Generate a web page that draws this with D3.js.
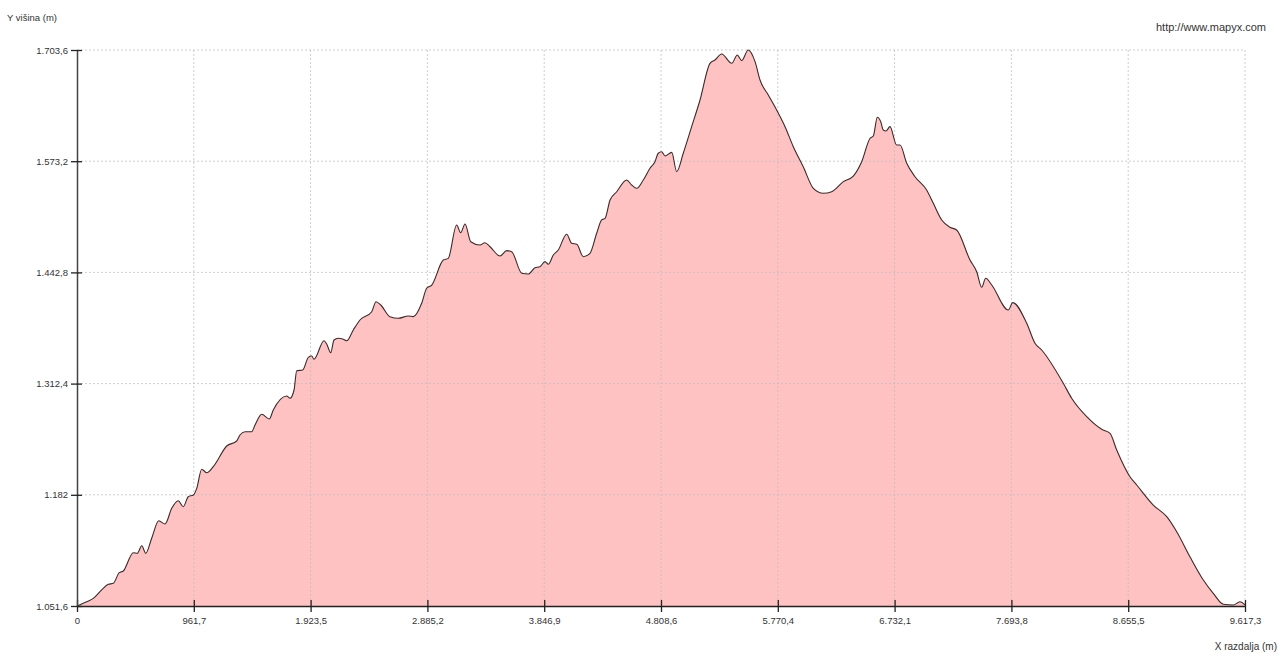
<!DOCTYPE html>
<html>
<head>
<meta charset="utf-8">
<script src="https://cdn.jsdelivr.net/npm/d3@7"></script>
<style>
  body { margin: 0; background: #fff; }
  text { font-family: "Liberation Sans", Arial, sans-serif; fill: #333; }
</style>
</head>
<body>
<div id="chart"></div>
<script>
// distance along route (m)
var distance = [0, 80, 134, 203, 258, 299, 348, 381, 464, 497, 533, 566, 615, 673, 725, 780, 834, 875, 916, 958,
  986, 1027, 1068, 1122, 1233, 1315, 1342, 1383, 1438, 1466, 1521, 1583, 1616, 1727, 1754, 1787, 1809, 1858, 1905, 1933,
  1951, 2034, 2056, 2089, 2116, 2152, 2193, 2221, 2275, 2330, 2427, 2462, 2501, 2577, 2646, 2728, 2769, 2838, 2879, 2921,
  3016, 3057, 3126, 3159, 3195, 3242, 3318, 3359, 3401, 3483, 3538, 3579, 3662, 3716, 3771, 3812, 3853, 3881, 3922, 3963,
  4032, 4073, 4115, 4169, 4224, 4279, 4320, 4348, 4389, 4444, 4526, 4567, 4609, 4663, 4718, 4759, 4786, 4814, 4842, 4897,
  4938, 4992, 5061, 5130, 5212, 5253, 5308, 5391, 5437, 5473, 5527, 5583, 5624, 5692, 5761, 5830, 5898, 5980, 6063, 6145,
  6214, 6310, 6392, 6461, 6530, 6557, 6590, 6618, 6639, 6661, 6694, 6749, 6777, 6832, 6900, 6996, 7051, 7120, 7188, 7243,
  7353, 7408, 7449, 7482, 7532, 7668, 7705, 7820, 7888, 7943, 8121, 8190, 8314, 8437, 8506, 8561, 8670, 8726, 8862, 8973,
  9055, 9164, 9274, 9356, 9439, 9521, 9576, 9617.3];

// elevation (m)
var elevation = [1051.6, 1056.6, 1060.6, 1070.4, 1077.0, 1078.2, 1090.7, 1092.6, 1114.1, 1113.4, 1122.3, 1113.4, 1131.0, 1151.6, 1147.8, 1166.2, 1175.1, 1168.0, 1179.8, 1181.8,
  1189.6, 1211.9, 1207.9, 1215.0, 1239.2, 1245.1, 1252.1, 1256.0, 1256.0, 1263.9, 1276.4, 1270.9, 1281.4, 1297.9, 1295.2, 1304.9, 1327.5, 1328.4, 1343.2, 1344.8,
  1340.9, 1362.7, 1358.8, 1348.6, 1363.5, 1365.5, 1364.4, 1362.7, 1375.3, 1387.0, 1396.7, 1408.4, 1404.6, 1390.9, 1389.0, 1391.7, 1390.9, 1406.6, 1424.2, 1428.0,
  1457.3, 1459.3, 1498.4, 1489.4, 1499.6, 1478.8, 1474.9, 1477.6, 1472.9, 1462.0, 1468.3, 1467.1, 1441.8, 1440.9, 1448.3, 1449.5, 1455.4, 1452.3, 1463.2, 1469.1,
  1487.5, 1476.9, 1475.8, 1461.2, 1465.2, 1488.7, 1504.3, 1506.2, 1527.7, 1537.4, 1551.2, 1545.3, 1541.4, 1551.2, 1564.9, 1572.6, 1582.5, 1584.3, 1579.3, 1583.6,
  1560.9, 1582.5, 1613.7, 1645.0, 1688.0, 1691.9, 1698.9, 1688.0, 1697.8, 1691.1, 1703.6, 1689.9, 1668.4, 1650.8, 1633.2, 1613.7, 1590.2, 1566.7, 1541.4, 1535.6,
  1537.4, 1549.2, 1555.8, 1572.6, 1600.1, 1602.8, 1624.7, 1619.5, 1609.8, 1608.6, 1613.7, 1592.2, 1592.2, 1570.7, 1555.0, 1539.4, 1523.8, 1504.3, 1495.7, 1492.5,
  1457.3, 1443.6, 1425.3, 1435.9, 1428.0, 1398.7, 1407.3, 1383.1, 1359.7, 1351.8, 1312.8, 1295.2, 1273.6, 1258.8, 1254.1, 1234.5, 1203.2, 1193.5, 1170.0, 1156.3,
  1138.7, 1109.4, 1082.1, 1066.5, 1053.6, 1052.8, 1056.6, 1052.8];

var xTicks = [0, 961.73, 1923.46, 2885.19, 3846.92, 4808.65, 5770.38, 6732.11, 7693.84, 8655.57, 9617.3];
var xTickLabels = ["0", "961,7", "1.923,5", "2.885,2", "3.846,9", "4.808,6", "5.770,4", "6.732,1", "7.693,8", "8.655,5", "9.617,3"];
var yTicks = [1051.6, 1182, 1312.4, 1442.8, 1573.2, 1703.6];
var yTickLabels = ["1.051,6", "1.182", "1.312,4", "1.442,8", "1.573,2", "1.703,6"];

var W = 1278, H = 653;
var margin = { top: 50, right: 33, bottom: 47, left: 77 };
var width = W - margin.left - margin.right;
var height = H - margin.top - margin.bottom;

var svg = d3.select("#chart")
  .append("svg")
  .attr("width", W)
  .attr("height", H);

var g = svg.append("g")
  .attr("transform", "translate(" + margin.left + "," + margin.top + ")");

var x = d3.scaleLinear().domain([0, 9617.3]).range([0, width]);
var y = d3.scaleLinear().domain([1051.6, 1703.6]).range([height, 0]);

var data = distance.map(function (d, i) { return { d: d, e: elevation[i] }; });

// filled profile
var area = d3.area()
  .curve(d3.curveMonotoneX)
  .x(function (p) { return x(p.d); })
  .y0(height)
  .y1(function (p) { return y(p.e); });

g.append("path")
  .datum(data)
  .attr("d", area)
  .attr("fill", "#ffc2c2");

// dashed grid on top of the fill
g.selectAll(".vgrid")
  .data(xTicks.slice(1))
  .enter()
  .append("line")
  .attr("x1", function (d) { return x(d); })
  .attr("x2", function (d) { return x(d); })
  .attr("y1", 0)
  .attr("y2", height)
  .attr("stroke", "#bdbdbd")
  .attr("stroke-opacity", 0.75)
  .attr("stroke-dasharray", "2,2");

g.selectAll(".hgrid")
  .data(yTicks.slice(1))
  .enter()
  .append("line")
  .attr("x1", 0)
  .attr("x2", width)
  .attr("y1", function (d) { return y(d); })
  .attr("y2", function (d) { return y(d); })
  .attr("stroke", "#bdbdbd")
  .attr("stroke-opacity", 0.75)
  .attr("stroke-dasharray", "2,2");

// outline
var line = d3.line()
  .curve(d3.curveMonotoneX)
  .x(function (p) { return x(p.d); })
  .y(function (p) { return y(p.e); });

g.append("path")
  .datum(data)
  .attr("d", line)
  .attr("fill", "none")
  .attr("stroke", "#3a2b2b")
  .attr("stroke-width", 1.1);

// axes
var xAxis = g.append("g")
  .attr("transform", "translate(0," + height + ")")
  .call(d3.axisBottom(x).tickValues(xTicks).tickSizeOuter(0)
    .tickFormat(function (d, i) { return xTickLabels[i]; }));
xAxis.select(".domain").attr("stroke", "#222").attr("stroke-width", 1.5);
xAxis.selectAll(".tick line").attr("y1", -6).attr("y2", 6).attr("stroke", "#222").attr("stroke-width", 1.3);
xAxis.selectAll(".tick text").attr("y", 11).style("font-size", "9.5px").style("fill", "#333");

var yAxis = g.append("g")
  .call(d3.axisLeft(y).tickValues(yTicks).tickSizeOuter(0)
    .tickFormat(function (d, i) { return yTickLabels[i]; }));
yAxis.select(".domain").attr("stroke", "#444").attr("stroke-width", 1.5);
yAxis.selectAll(".tick line").attr("x1", -6).attr("x2", 5).attr("stroke", "#222").attr("stroke-width", 1.3);
yAxis.selectAll(".tick text").attr("x", -9).style("font-size", "9.5px").style("fill", "#333");

// titles
svg.append("text")
  .attr("x", 7)
  .attr("y", 21)
  .style("font-size", "9.5px")
  .text("Y višina (m)");

svg.append("text")
  .attr("x", 1266)
  .attr("y", 31)
  .attr("text-anchor", "end")
  .style("font-size", "11px")
  .text("http://www.mapyx.com");

svg.append("text")
  .attr("x", 1277)
  .attr("y", 650)
  .attr("text-anchor", "end")
  .style("font-size", "10px")
  .text("X razdalja (m)");
</script>
</body>
</html>
